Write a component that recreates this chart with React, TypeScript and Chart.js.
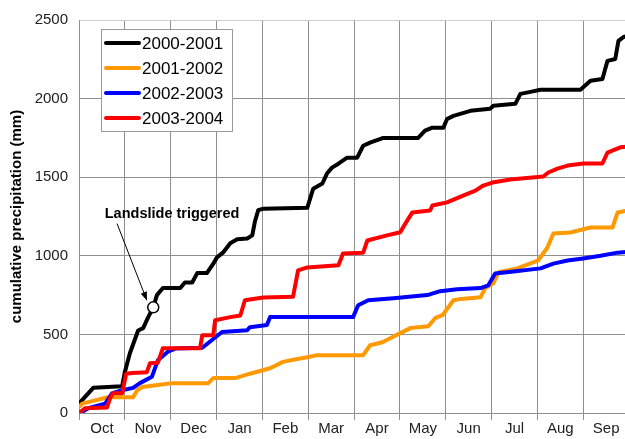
import { useEffect, useRef } from 'react';
import { Chart, registerables } from 'chart.js';

Chart.register(...registerables);

// ---- categories / ticks ----
const monthLabels = ['Oct', 'Nov', 'Dec', 'Jan', 'Feb', 'Mar', 'Apr', 'May', 'Jun', 'Jul', 'Aug', 'Sep'];
const yTickStep = 500;
const yMax = 2500;
const seriesLabels = ['2000-2001', '2001-2002', '2002-2003', '2003-2004'];
const seriesColors = ['#000000', '#FF9900', '#0000FF', '#FF0000'];

// x = months elapsed since 1 October, y = cumulative precipitation (mm)
const months2000 = [0, 0.31, 0.94, 1.0, 1.11, 1.29, 1.4, 1.51, 1.62, 1.7, 1.83, 2.21, 2.31, 2.47, 2.58, 2.79, 2.93, 3.01, 3.14, 3.3, 3.45, 3.67, 3.78, 3.84, 3.91, 4.02, 4.98, 5.11, 5.31, 5.41, 5.52, 5.66, 5.85, 6.07, 6.2, 6.35, 6.64, 7.4, 7.55, 7.71, 7.95, 8.03, 8.17, 8.54, 8.97, 9.04, 9.52, 9.63, 9.85, 10.07, 10.94, 11.16, 11.42, 11.53, 11.7, 11.77, 11.88, 12.0];
const precip2000 = [60, 160, 170, 260, 380, 525, 540, 610, 672, 750, 795, 795, 830, 830, 890, 890, 950, 990, 1020, 1080, 1105, 1110, 1130, 1220, 1290, 1300, 1305, 1427, 1460, 1523, 1561, 1586, 1624, 1624, 1700, 1720, 1750, 1750, 1796, 1815, 1815, 1870, 1890, 1922, 1935, 1954, 1967, 2030, 2043, 2056, 2056, 2113, 2125, 2240, 2252, 2367, 2392, 2400];

const months2001 = [0, 0.07, 0.63, 1.18, 1.27, 1.38, 1.72, 2.03, 2.82, 2.93, 3.41, 3.73, 4.17, 4.45, 4.61, 4.98, 5.2, 6.2, 6.35, 6.62, 6.79, 7.01, 7.23, 7.62, 7.77, 7.93, 8.17, 8.28, 8.76, 8.86, 9.04, 9.15, 9.56, 9.91, 10.02, 10.22, 10.35, 10.72, 11.16, 11.64, 11.75, 12.0];
const precip2001 = [40, 60, 100, 100, 145, 165, 178, 190, 190, 222, 222, 250, 285, 325, 335, 355, 368, 368, 431, 450, 475, 508, 540, 552, 603, 622, 717, 723, 736, 793, 825, 895, 920, 958, 971, 1053, 1142, 1148, 1180, 1180, 1275, 1290];

const months2002 = [0.03, 0.2, 0.57, 0.72, 0.94, 1.18, 1.33, 1.59, 1.72, 1.94, 2.1, 2.69, 2.97, 3.12, 3.67, 3.73, 4.1, 4.17, 5.98, 6.09, 6.31, 6.86, 7.6, 7.88, 8.25, 8.76, 8.93, 9.08, 9.48, 10.07, 10.35, 10.66, 11.0, 11.38, 11.75, 12.0];
const precip2002 = [0, 30, 60, 125, 145, 160, 190, 230, 335, 390, 410, 415, 480, 515, 527, 546, 560, 610, 610, 685, 717, 730, 750, 775, 787, 795, 812, 888, 900, 920, 950, 970, 983, 1000, 1020, 1025];

const months2003 = [0, 0.13, 0.61, 0.68, 0.74, 0.94, 1.03, 1.16, 1.48, 1.55, 1.72, 1.83, 2.64, 2.69, 2.93, 2.97, 3.3, 3.52, 3.62, 4.02, 4.67, 4.78, 4.98, 5.66, 5.76, 6.2, 6.29, 6.72, 7.01, 7.12, 7.27, 7.66, 7.71, 8.03, 8.38, 8.65, 8.82, 9.02, 9.41, 10.13, 10.24, 10.44, 10.66, 11.0, 11.42, 11.53, 11.81, 12.0];
const precip2003 = [0, 30, 35, 95, 125, 125, 250, 255, 260, 317, 320, 412, 412, 495, 495, 590, 610, 620, 717, 735, 740, 907, 926, 940, 1015, 1020, 1097, 1130, 1150, 1205, 1275, 1288, 1320, 1340, 1383, 1415, 1447, 1466, 1485, 1504, 1530, 1555, 1574, 1587, 1587, 1656, 1690, 1695];

const seriesMonths = [months2000, months2001, months2002, months2003];
const seriesPrecip = [precip2000, precip2001, precip2002, precip2003];

// landslide annotation (data space)
const landslideMonth = [1.62];
const landslidePrecip = [672];
const annotationText = 'Landslide triggered';
const annotationTextAt = [2.03, 1269];
const arrowFrom = [0.83, 1205];
const arrowTo = [1.48, 717];

const FONT = "'Liberation Sans', Arial, Helvetica, sans-serif";
const GRID = '#8f8f8f';

const overlayPlugin = {
  id: 'overlay',
  afterDatasetsDraw(chart: any) {
    const { ctx, chartArea, scales } = chart;
    const xs = scales.x;
    const ys = scales.y;
    ctx.save();
    // annotation text
    ctx.fillStyle = '#000';
    ctx.font = `bold 14.5px ${FONT}`;
    ctx.textAlign = 'center';
    ctx.textBaseline = 'middle';
    ctx.fillText(annotationText, xs.getPixelForValue(annotationTextAt[0]), ys.getPixelForValue(annotationTextAt[1]));
    // arrow
    const x1 = xs.getPixelForValue(arrowFrom[0]);
    const y1 = ys.getPixelForValue(arrowFrom[1]);
    const x2 = xs.getPixelForValue(arrowTo[0]);
    const y2 = ys.getPixelForValue(arrowTo[1]);
    ctx.strokeStyle = '#000';
    ctx.lineWidth = 1;
    ctx.beginPath();
    ctx.moveTo(x1, y1);
    ctx.lineTo(x2, y2);
    ctx.stroke();
    const ang = Math.atan2(y2 - y1, x2 - x1);
    const hl = 9;
    const hw = 0.38;
    ctx.beginPath();
    ctx.moveTo(x2, y2);
    ctx.lineTo(x2 - hl * Math.cos(ang - hw), y2 - hl * Math.sin(ang - hw));
    ctx.lineTo(x2 - hl * Math.cos(ang + hw), y2 - hl * Math.sin(ang + hw));
    ctx.closePath();
    ctx.fill();

    // legend box
    const bx = chartArea.left + 22;
    const by = chartArea.top + 9;
    const bw = 131;
    const bh = 102;
    ctx.fillStyle = '#fff';
    ctx.fillRect(bx, by, bw, bh);
    ctx.strokeStyle = '#9a9a9a';
    ctx.lineWidth = 1;
    ctx.strokeRect(bx + 0.5, by + 0.5, bw, bh);
    ctx.font = `17px ${FONT}`;
    ctx.textAlign = 'left';
    ctx.textBaseline = 'middle';
    seriesLabels.forEach((lab, i) => {
      const cy = by + 14 + i * 25;
      ctx.strokeStyle = seriesColors[i];
      ctx.lineWidth = 4;
      ctx.lineCap = 'round';
      ctx.beginPath();
      ctx.moveTo(bx + 5, cy);
      ctx.lineTo(bx + 38, cy);
      ctx.stroke();
      ctx.fillStyle = '#000';
      ctx.fillText(lab, bx + 41, cy + 1);
    });
    ctx.restore();
  },
};

export default function App() {
  const ref = useRef<HTMLCanvasElement>(null);
  useEffect(() => {
    const canvas = ref.current;
    if (!canvas) return;
    const datasets: any[] = seriesLabels.map((label, i) => ({
      label,
      data: seriesMonths[i].map((m, j) => ({ x: m, y: seriesPrecip[i][j] })),
      borderColor: seriesColors[i],
      backgroundColor: seriesColors[i],
      borderWidth: 4,
      pointRadius: 0,
      tension: 0,
      borderJoinStyle: 'round',
      borderCapStyle: 'round',
      order: 4 - i,
    }));
    datasets.push({
      label: 'landslide',
      data: landslideMonth.map((m, j) => ({ x: m, y: landslidePrecip[j] })),
      showLine: false,
      pointRadius: 5.5,
      pointBackgroundColor: '#ffffff',
      pointBorderColor: '#000000',
      pointBorderWidth: 1.5,
      order: -1,
    });
    const chart = new Chart(canvas, {
      type: 'line',
      data: { datasets },
      options: {
        responsive: false,
        animation: false,
        devicePixelRatio: 1,
        layout: { padding: { top: 19, right: 11, left: 0, bottom: 0 } },
        plugins: { legend: { display: false }, tooltip: { enabled: false } },
        scales: {
          x: {
            type: 'linear',
            min: 0,
            max: 12,
            afterFit: (s: any) => { s.height = 26; },
            ticks: {
              stepSize: 1,
              autoSkip: false,
              maxRotation: 0,
              padding: 0,
              labelOffset: 23,
              color: '#222',
              font: { family: FONT, size: 15 },
              callback: (_v: any, idx: number) => monthLabels[idx] ?? '',
            },
            grid: { color: GRID, tickLength: 7, lineWidth: 1 },
            border: { color: GRID },
          },
          y: {
            min: 0,
            max: yMax,
            afterFit: (s: any) => { s.width = 79; },
            ticks: {
              stepSize: yTickStep,
              padding: 11,
              color: '#222',
              font: { family: FONT, size: 15 },
              callback: (v: any) => String(v),
            },
            grid: {
              color: (c: any) => (c.tick && c.tick.value === yMax ? '#cdcdcd' : GRID),
              drawTicks: false,
              lineWidth: 1,
            },
            border: { color: GRID },
            title: {
              display: true,
              text: 'cumulative precipitation (mm)',
              color: '#000',
              font: { family: FONT, size: 15, weight: 'bold', lineHeight: 1.2 },
              padding: { top: 8, bottom: 0 },
            },
          },
        },
      } as any,
      plugins: [overlayPlugin],
    });
    return () => chart.destroy();
  }, []);
  return (
    <div style={{ position: 'fixed', left: 0, top: 0, width: 625, height: 439, overflow: 'hidden', background: '#fff' }}>
      <canvas ref={ref} width={640} height={439} style={{ display: 'block' }} />
    </div>
  );
}
